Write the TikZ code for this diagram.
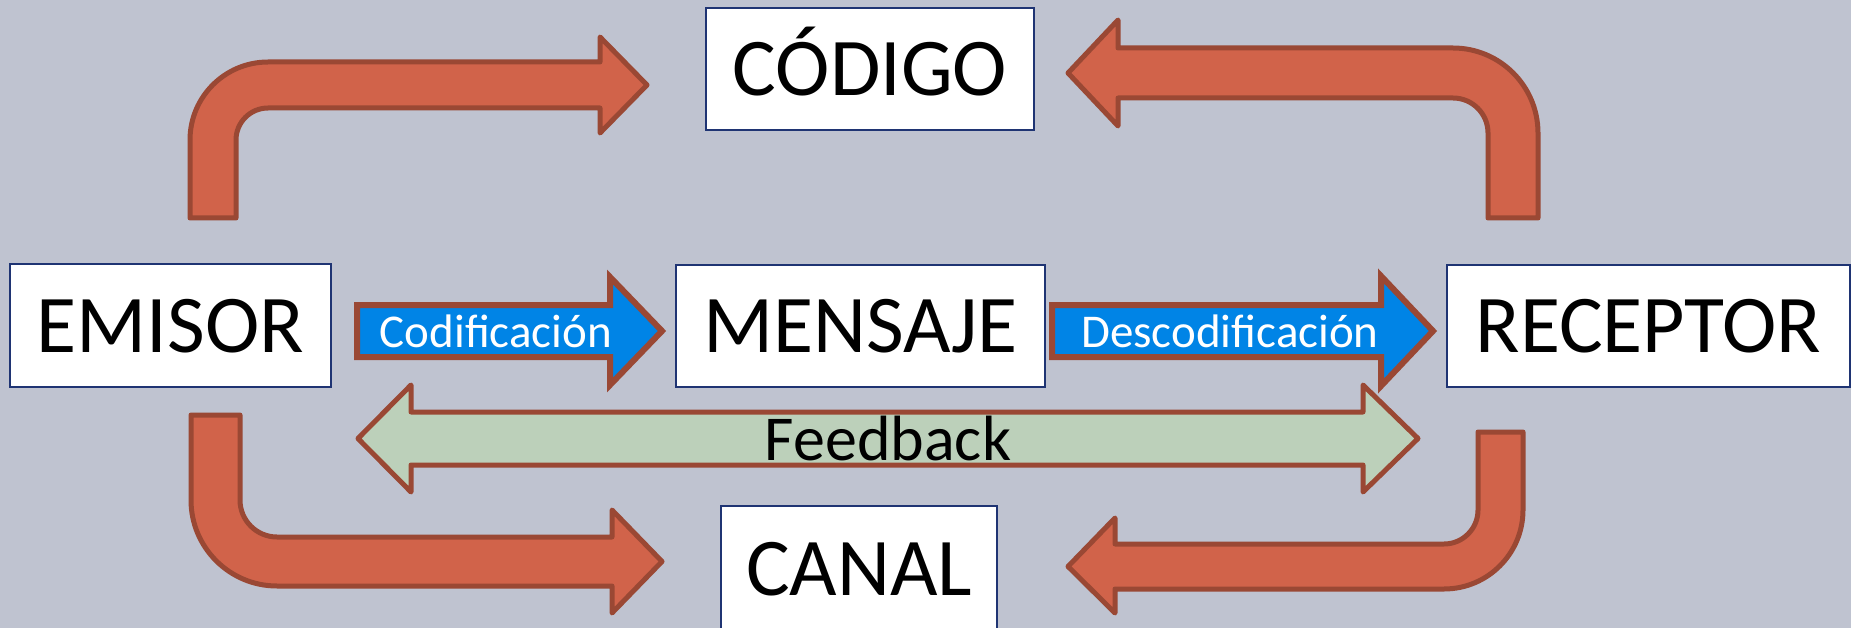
\documentclass[tikz,border=0pt]{standalone}
\usepackage{fontspec}
\setmainfont{Carlito}
\definecolor{bg}{HTML}{BFC3D0}
\definecolor{boxline}{HTML}{1F3473}
\definecolor{arrfill}{HTML}{D1634A}
\definecolor{arrline}{HTML}{9A4834}
\definecolor{blueArr}{HTML}{0084E6}
\definecolor{greenArr}{HTML}{BCD0BA}
\begin{document}
\begin{tikzpicture}[x=1pt,y=-1pt,
  box/.style={draw=boxline, line width=2pt, fill=white, inner sep=0pt,
    text height=53pt, text depth=0pt, font=\fontsize{82}{98}\selectfont},
  bent/.style={draw=arrline, fill=arrfill, line width=5pt, line join=round},
  flow/.style={draw=arrline, fill=blueArr, line width=6pt, line join=miter},
  fb/.style={draw=arrline, fill=greenArr, line width=5pt, line join=round},
  flowtext/.style={text=white, font=\fontsize{47}{56}\selectfont, inner sep=0pt, anchor=base},
  fbtext/.style={text=black, font=\fontsize{64}{76}\selectfont, inner sep=0pt, anchor=base}]
\useasboundingbox (0,0) rectangle (1851,628);
\clip (0,0) rectangle (1851,628);
\fill[bg] (0,0) rectangle (1851,628);

% boxes
\node[box, minimum width=328pt, minimum height=122pt] (codigo) at (870,69) {CÓDIGO};
\node[box, minimum width=321pt, minimum height=123pt] (emisor) at (170.5,325.5) {EMISOR};
\node[box, minimum width=369pt, minimum height=122pt] (mensaje) at (860.5,326) {MENSAJE};
\node[box, minimum width=403pt, minimum height=122pt] (receptor) at (1648.5,326) {RECEPTOR};
\node[box, minimum width=276pt, minimum height=126pt] (canal) at (859,569) {CANAL};

% bent arrows
\draw[bent] (190,218) -- (190,140) arc[start angle=180, end angle=270, radius=78]
  -- (600,62) -- (600,37) -- (647,85) -- (600,133) -- (600,108) -- (268,108)
  arc[start angle=270, end angle=180, radius=32] -- (236,218) -- cycle;
\draw[bent] (1538,218) -- (1538,133) arc[start angle=0, end angle=-90, radius=85]
  -- (1118,48) -- (1118,20) -- (1068,73) -- (1118,126) -- (1118,98) -- (1453,98)
  arc[start angle=-90, end angle=0, radius=35] -- (1488,218) -- cycle;
\draw[bent] (191,415) -- (191,500) arc[start angle=180, end angle=90, radius=86]
  -- (612,586) -- (612,613) -- (662,561.5) -- (612,510) -- (612,537) -- (277,537)
  arc[start angle=90, end angle=180, radius=37] -- (240,415) -- cycle;
\draw[bent] (1523,432) -- (1523,510) arc[start angle=0, end angle=90, radius=79]
  -- (1115,589) -- (1115,613) -- (1068,566.5) -- (1115,518) -- (1115,544) -- (1444,544)
  arc[start angle=90, end angle=0, radius=34] -- (1478,432) -- cycle;

% flow arrows
\draw[flow] (357,305) -- (610,305) -- (610,277) -- (662,331) -- (610,385) -- (610,357) -- (357,357) -- cycle;
\node[flowtext] (codif) at (496,347) {Codificación};
\draw[flow] (1052,305) -- (1381,305) -- (1381,276) -- (1433,331) -- (1381,386) -- (1381,357) -- (1052,357) -- cycle;
\node[flowtext] (descodif) at (1230,347) {Descodificación};

% feedback
\draw[fb] (358,438.5) -- (411,385) -- (411,412) -- (1363,412) -- (1363,385) -- (1418,438.5)
  -- (1363,492) -- (1363,465) -- (411,465) -- (411,492) -- cycle;
\node[fbtext] (feedback) at (888,460) {Feedback};
\end{tikzpicture}
\end{document}
